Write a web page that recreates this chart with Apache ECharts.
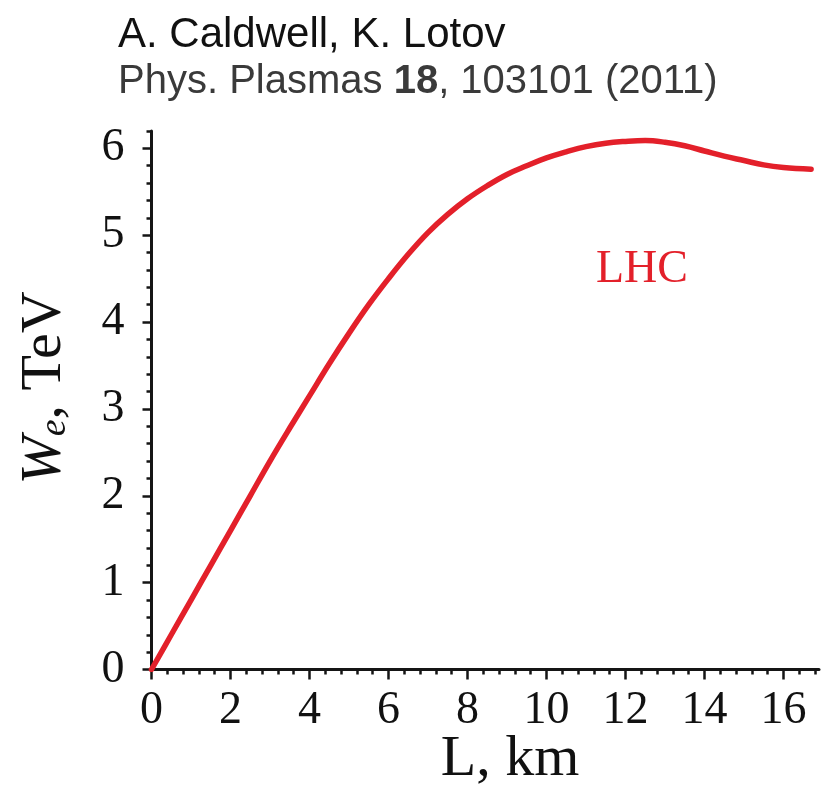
<!DOCTYPE html>
<html>
<head>
<meta charset="utf-8">
<script src="https://cdn.jsdelivr.net/npm/echarts@6/dist/echarts.min.js"></script>
<style>
html,body{margin:0;padding:0;background:#fff;}
#chart{width:826px;height:789px;}
</style>
</head>
<body>
<div id="chart"></div>
<script>
// Data
var L_km = [0,0.5,1,1.5,2,2.5,3,3.5,4,4.5,5,5.5,6,6.5,7,7.5,8,8.5,9,9.5,10,10.5,11,11.5,12,12.5,13,13.5,14,14.5,15,15.5,16,16.7];
var W_TeV = [0,0.4,0.8,1.2,1.6,2.0,2.4,2.78,3.15,3.52,3.87,4.2,4.5,4.78,5.03,5.24,5.42,5.57,5.7,5.8,5.89,5.96,6.02,6.06,6.08,6.09,6.07,6.03,5.97,5.91,5.86,5.81,5.78,5.76];
var xMajorTicks = [0,2,4,6,8,10,12,14,16];
var yMajorTicks = [0,1,2,3,4,5,6];
var xMinorStep = 0.4, xMinorLast = 16.8;
var yMinorStep = 0.2, yMinorLast = 6.2;
var xMin = 0, xMax = 16.9, yMin = 0, yMax = 6.2;
var seriesLabel = 'LHC';
var titleLine1 = 'A. Caldwell, K. Lotov';

function steps(step, last){ var a=[]; var n=Math.round(last/step); for(var i=0;i<=n;i++){a.push(+(i*step).toFixed(4));} return a; }
var xMinorTicks = steps(xMinorStep, xMinorLast);
var yMinorTicks = steps(yMinorStep, yMinorLast);

var lineData = L_km.map(function(l,i){return [l, W_TeV[i]];});
var serif = 'Liberation Serif';
var red = '#e3202a';
var axisColor = '#151515';

var chart = echarts.init(document.getElementById('chart'), null, {renderer:'canvas'});
chart.setOption({
  backgroundColor:'#fff',
  animation:false,
  grid:{left:151.5, right:7, top:131, bottom:119.5, containLabel:false},
  xAxis:[{
    type:'value', min:xMin, max:xMax, interval:2,
    axisLine:{show:true, lineStyle:{color:axisColor, width:3}},
    axisTick:{show:true, customValues:xMajorTicks, length:10, inside:false, lineStyle:{color:axisColor, width:2.5}},
    axisLabel:{show:true, customValues:xMajorTicks, margin:18, color:'#111', fontFamily:serif, fontSize:46},
    splitLine:{show:false}
  },{
    type:'value', min:xMin, max:xMax, position:'bottom', interval:xMinorStep,
    axisLine:{show:false},
    axisTick:{show:true, customValues:xMinorTicks, length:5, lineStyle:{color:axisColor, width:2.5}},
    axisLabel:{show:false},
    splitLine:{show:false}
  }],
  yAxis:[{
    type:'value', min:yMin, max:yMax, interval:1,
    axisLine:{show:true, lineStyle:{color:axisColor, width:3}},
    axisTick:{show:true, customValues:yMajorTicks, length:9, lineStyle:{color:axisColor, width:2.5}},
    axisLabel:{show:true, customValues:yMajorTicks, margin:27, color:'#111', fontFamily:serif, fontSize:46},
    splitLine:{show:false}
  },{
    type:'value', min:yMin, max:yMax, position:'left', interval:yMinorStep,
    axisLine:{show:false},
    axisTick:{show:true, customValues:yMinorTicks, length:5, lineStyle:{color:axisColor, width:2.5}},
    axisLabel:{show:false},
    splitLine:{show:false}
  }],
  series:[{
    type:'line', name:seriesLabel, xAxisIndex:0, yAxisIndex:0,
    data:lineData, smooth:0.4, showSymbol:false, symbol:'none',
    lineStyle:{color:red, width:5.5, cap:'round', join:'round'}
  }],
  graphic:[
    {type:'text', left:118, top:14, style:{text:titleLine1, fontFamily:'Liberation Sans', fontSize:42, fill:'#111'}},
    {type:'text', left:118, top:62, style:{
      text:'Phys. Plasmas {b|18}, 103101 (2011)', fontFamily:'Liberation Sans', fontSize:40, fill:'#3a3a3a',
      rich:{b:{fontWeight:'bold', fontFamily:'Liberation Sans', fontSize:40, fill:'#3a3a3a'}}
    }},
    {type:'text', x:642, y:270, style:{text:seriesLabel, fontFamily:serif, fontSize:46, fill:red, align:'center', verticalAlign:'middle'}},
    {type:'text', x:510, y:760, style:{text:'L, km', fontFamily:serif, fontSize:58, fill:'#111', align:'center', verticalAlign:'middle'}},
    {type:'text', x:45, y:388, rotation:Math.PI/2, style:{
      text:'{w|W}{e|e}{n|, TeV}', align:'center', verticalAlign:'middle', fill:'#111',
      rich:{
        w:{fontFamily:serif, fontStyle:'italic', fontSize:58, lineHeight:58, fill:'#111'},
        e:{fontFamily:serif, fontStyle:'italic', fontSize:38, lineHeight:20, verticalAlign:'bottom', fill:'#111'},
        n:{fontFamily:serif, fontSize:58, lineHeight:58, fill:'#111'}
      }
    }}
  ]
});
</script>
</body>
</html>
